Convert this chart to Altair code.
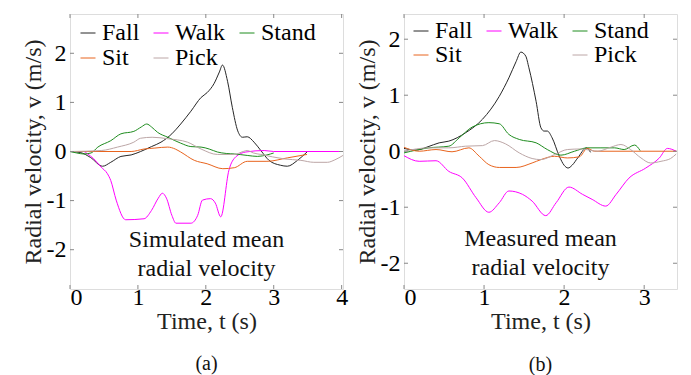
import altair as alt
import pandas as pd

FONT = "Liberation Serif"
SERIES = ["Fall", "Walk", "Stand", "Sit", "Pick"]
COLORS = ["#262626", "#FF00FF", "#1E8C1E", "#E8641E", "#BCA6A6"]

# ---------------- Simulated (a) ----------------
sim_fall_t = [0, 0.15, 0.3, 0.48, 0.6, 0.75, 0.9, 1.04, 1.2, 1.34, 1.5, 1.63, 1.78, 1.93, 2.02, 2.12, 2.2, 2.245, 2.32, 2.39, 2.47, 2.54, 2.61, 2.71, 2.81, 2.93, 3.1, 3.2, 3.35, 3.49]
sim_fall_v = [0, -0.02, -0.12, -0.3, -0.22, -0.1, -0.07, 0.0, 0.1, 0.19, 0.36, 0.56, 0.82, 1.1, 1.2, 1.38, 1.62, 1.76, 1.43, 0.9, 0.42, 0.29, 0.3, 0.19, 0.02, -0.18, -0.28, -0.3, -0.18, -0.01]

sim_walk_t = [0, 0.2, 0.26, 0.35, 0.46, 0.55, 0.6, 0.68, 0.82, 1.09, 1.2, 1.3, 1.36, 1.42, 1.5, 1.56, 1.78, 1.88, 1.95, 2.07, 2.14, 2.22, 2.34, 2.44, 2.59, 2.86, 3.0, 4.02]
sim_walk_v = [0, 0, -0.05, -0.15, -0.32, -0.45, -0.59, -0.99, -1.39, -1.37, -1.2, -0.95, -0.85, -0.95, -1.3, -1.46, -1.46, -1.3, -0.99, -0.96, -1.05, -1.33, -0.38, -0.11, -0.01, 0.02, 0, 0]

sim_stand_t = [0, 0.1, 0.2, 0.31, 0.41, 0.6, 0.75, 0.94, 1.05, 1.13, 1.2, 1.29, 1.44, 1.63, 1.78, 1.93, 2.05, 2.17, 2.3, 2.42, 2.61, 2.76, 2.9, 3.0]
sim_stand_v = [0, -0.03, -0.05, -0.03, 0.09, 0.22, 0.36, 0.41, 0.5, 0.56, 0.5, 0.39, 0.29, 0.17, 0.1, 0.09, 0.05, -0.01, -0.04, -0.05, -0.08, -0.1, -0.07, -0.03]

sim_sit_t = [0, 0.9, 1.09, 1.25, 1.44, 1.55, 1.63, 1.83, 2.02, 2.25, 2.42, 2.61, 2.9, 3.2, 3.49]
sim_sit_v = [0, 0, 0.05, 0.07, 0.09, 0.05, -0.01, -0.18, -0.25, -0.35, -0.33, -0.2, -0.2, -0.13, -0.06]

sim_pick_t = [0, 0.46, 0.7, 0.94, 1.04, 1.21, 1.44, 1.73, 1.93, 2.17, 2.42, 2.55, 2.61, 2.7, 2.81, 3.15, 3.4, 3.59, 3.79, 3.9, 4.02]
sim_pick_v = [0, 0.02, 0.09, 0.19, 0.27, 0.29, 0.26, 0.19, 0.05, -0.06, -0.06, 0.0, 0.02, -0.03, -0.06, -0.15, -0.18, -0.22, -0.22, -0.17, -0.08]

# ---------------- Measured (b) ----------------
mea_fall_t = [0, 0.15, 0.3, 0.44, 0.56, 0.77, 0.98, 1.19, 1.31, 1.4, 1.46, 1.52, 1.56, 1.65, 1.71, 1.75, 1.79, 1.85, 1.94, 2.0, 2.05, 2.1, 2.17, 2.28, 2.33]
mea_fall_v = [0.05, 0.02, 0.08, 0.15, 0.18, 0.33, 0.57, 0.98, 1.31, 1.6, 1.77, 1.7, 1.49, 0.89, 0.42, 0.36, 0.36, 0.24, -0.09, -0.25, -0.3, -0.25, -0.12, 0.06, -0.02]

mea_walk_t = [0, 0.19, 0.4, 0.56, 0.73, 0.9, 1.06, 1.19, 1.31, 1.48, 1.6, 1.77, 1.9, 2.06, 2.23, 2.35, 2.52, 2.65, 2.81, 3.02, 3.19, 3.29, 3.4]
mea_walk_v = [-0.08, -0.18, -0.17, -0.36, -0.48, -0.83, -1.09, -0.92, -0.71, -0.77, -0.89, -1.15, -0.92, -0.64, -0.77, -0.86, -0.98, -0.77, -0.48, -0.3, -0.12, 0.05, 0.0]

mea_stand_t = [0, 0.31, 0.56, 0.69, 0.85, 1.06, 1.19, 1.31, 1.44, 1.65, 1.79, 1.96, 2.13, 2.29, 2.46, 2.63, 2.75, 2.88, 2.95]
mea_stand_v = [-0.03, 0.06, 0.09, 0.24, 0.43, 0.51, 0.49, 0.3, 0.21, 0.15, 0.03, -0.07, 0, 0.06, 0.06, 0.06, 0.03, 0.11, 0.01]

mea_sit_t = [0, 0.19, 0.4, 0.6, 0.81, 0.94, 1.06, 1.19, 1.4, 1.6, 1.71, 1.88, 2.04, 2.19, 2.29, 2.38, 3.4]
mea_sit_v = [0.07, 0, 0.03, -0.01, 0.06, -0.09, -0.24, -0.29, -0.29, -0.21, -0.15, -0.09, -0.12, -0.1, 0.05, 0, 0]

mea_pick_t = [0, 0.31, 0.56, 0.77, 0.98, 1.13, 1.27, 1.44, 1.6, 1.71, 1.88, 2.04, 2.21, 2.42, 2.58, 2.71, 2.83, 2.96, 3.08, 3.21, 3.33, 3.4]
mea_pick_v = [0, 0.06, 0.06, 0.09, 0.1, 0.19, 0.13, -0.03, -0.13, -0.15, -0.06, 0.03, 0.04, 0, 0.07, 0.12, 0.03, -0.12, -0.21, -0.18, -0.13, -0.05]

sim_x_ticks = [0, 1, 2, 3, 4]
mea_x_ticks = [0, 1, 2, 3]
y_ticks = [-2, -1, 0, 1, 2]


def to_df(pairs):
    rows = []
    for name, (ts, vs) in zip(SERIES, pairs):
        for i, (t, v) in enumerate(zip(ts, vs)):
            rows.append({"series": name, "t": t, "v": v, "i": i})
    return pd.DataFrame(rows)


sim_df = to_df([(sim_fall_t, sim_fall_v), (sim_walk_t, sim_walk_v), (sim_stand_t, sim_stand_v),
                (sim_sit_t, sim_sit_v), (sim_pick_t, sim_pick_v)])
mea_df = to_df([(mea_fall_t, mea_fall_v), (mea_walk_t, mea_walk_v), (mea_stand_t, mea_stand_v),
                (mea_sit_t, mea_sit_v), (mea_pick_t, mea_pick_v)])


def panel(df, xdom, ydom, xticks, W, H, ldomain, lrange, legX, legY, colPad, rowPad,
          note, noteY, sub, subOffset):
    xs = alt.Scale(domain=xdom, nice=False, zero=False)
    ys = alt.Scale(domain=ydom, nice=False, zero=False)
    xaxis = alt.Axis(
        values=xticks, title="Time, t (s)", labelExpr="'' + datum.value",
        domain=False, ticks=False, grid=False, labelPadding=-4, titlePadding=0,
        labelFont=FONT, labelFontSize=24, labelColor="#000",
        titleFont=FONT, titleFontSize=24, titleFontWeight="normal", titleColor="#222")
    yaxis = alt.Axis(
        values=y_ticks, title="Radial velocity, v (m/s)", labelExpr="'' + datum.value",
        domain=False, ticks=False, grid=False, labelPadding=4, titlePadding=1,
        labelFont=FONT, labelFontSize=24, labelColor="#000",
        titleFont=FONT, titleFontSize=24, titleFontWeight="normal", titleColor="#222")
    lines = alt.Chart(df).mark_line(strokeWidth=1, interpolate="monotone").encode(
        x=alt.X("t:Q", scale=xs, axis=xaxis),
        y=alt.Y("v:Q", scale=ys, axis=yaxis),
        color=alt.Color("series:N", scale=alt.Scale(domain=ldomain, range=lrange), legend=alt.Legend(
            orient="none", legendX=legX, legendY=legY, columns=3, direction="horizontal", title=None,
            symbolType="stroke", symbolSize=225, symbolStrokeWidth=1,
            labelFont=FONT, labelFontSize=24, labelColor="#000", labelOffset=2,
            columnPadding=colPad, rowPadding=rowPad, padding=0, gridAlign="each")),
        order="i:Q",
    )
    xt = pd.DataFrame({"t": xticks})
    yt = pd.DataFrame({"v": y_ticks})
    tick_style = dict(color="#888", strokeWidth=1)
    top = alt.Chart(xt).mark_rule(**tick_style).encode(
        x=alt.X("t:Q", scale=xs, axis=xaxis), y=alt.value(0), y2=alt.value(4))
    bot = alt.Chart(xt).mark_rule(**tick_style).encode(
        x=alt.X("t:Q", scale=xs, axis=xaxis), y=alt.value(H), y2=alt.value(H - 4))
    lft = alt.Chart(yt).mark_rule(**tick_style).encode(
        y=alt.Y("v:Q", scale=ys, axis=yaxis), x=alt.value(0), x2=alt.value(4))
    rgt = alt.Chart(yt).mark_rule(**tick_style).encode(
        y=alt.Y("v:Q", scale=ys, axis=yaxis), x=alt.value(W), x2=alt.value(W - 4))
    txt = alt.Chart(pd.DataFrame({"a": [0]})).mark_text(
        font=FONT, fontSize=24, align="center", baseline="alphabetic", lineHeight=29, color="#111"
    ).encode(x=alt.value(W / 2), y=alt.value(noteY), text=alt.value(note))
    return alt.layer(lines, top, bot, lft, rgt, txt).properties(
        width=W, height=H,
        title=alt.TitleParams(sub, orient="bottom", font=FONT, fontSize=20, fontWeight="normal",
                              color="#111", offset=subOffset, anchor="middle"))


left = panel(sim_df, [0, 4.02], [-2.8, 2.8], sim_x_ticks, 273, 275,
             SERIES, COLORS, 6, 7, 9, 1,
             ["Simulated mean", "radial velocity"], 233, "(a)", 21)
right = panel(mea_df, [0, 3.41], [-2.46, 2.45], mea_x_ticks, 273, 275,
              ["Fall", "Walk", "Stand", "Sit", " ", "Pick"],
              [COLORS[0], COLORS[1], COLORS[2], COLORS[3], "transparent", COLORS[4]],
              5, 5, 9, 0,
              ["Measured mean", "radial velocity"], 232, "(b)", 22)

chart = alt.hconcat(left, right, spacing=5).resolve_scale(color="independent").properties(
    padding={"left": 20, "top": 13, "right": 5, "bottom": 5}
).configure_view(stroke="#888", strokeWidth=1).configure(background="white", font=FONT)

chart.save("out.html", embed_options={"renderer": "svg", "actions": False})
